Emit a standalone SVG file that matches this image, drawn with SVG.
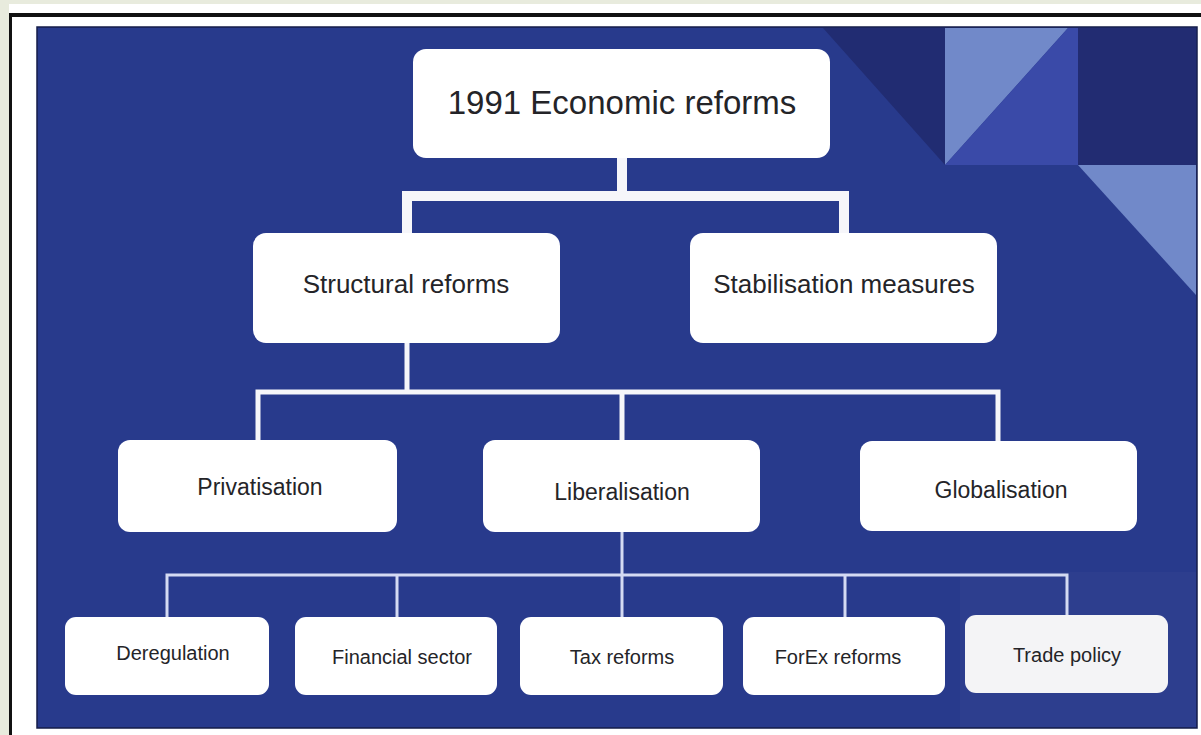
<svg xmlns="http://www.w3.org/2000/svg" width="1201" height="735" viewBox="0 0 1201 735">
<style>
.box{fill:#ffffff;}
.t{font-family:"Liberation Sans",Arial,sans-serif;fill:#242428;text-anchor:middle;}
.l1{font-size:33px;}
.l2{font-size:26px;}
.l3{font-size:23px;}
.l4{font-size:20px;}
.c1{stroke:#f6f6fa;stroke-width:10;fill:none;stroke-linejoin:miter;}
.c2{stroke:#f6f6fa;stroke-width:5;fill:none;stroke-linejoin:miter;}
.c3{stroke:#d4daf2;stroke-width:3;fill:none;stroke-linejoin:miter;}
</style>
<rect x="0" y="0" width="1201" height="735" fill="#e8ebdd"/>
<rect x="9" y="4" width="1192" height="731" fill="#ffffff"/>
<rect x="9" y="13" width="1192" height="4" fill="#111111"/>
<rect x="9" y="13" width="3" height="722" fill="#111111"/>
<g id="panel">
<rect x="37" y="27" width="1160" height="701" fill="#283a8c" stroke="#151c48" stroke-width="1.5"/>
<polygon points="823,28 945,28 945,165" fill="#212c72"/>
<polygon points="945,28 1068,28 945,165" fill="#7189c9"/>
<polygon points="1068,28 1078,28 1078,165 945,165" fill="#3a4aa8"/>
<rect x="1078" y="28" width="118" height="137" fill="#222c72"/>
<polygon points="1078,165 1196,165 1196,295" fill="#7189c9"/>
<rect x="960" y="572" width="236" height="155" fill="#ffffff" opacity="0.025"/>
</g>
<g id="connectors">
<path class="c1" d="M622,158 V196"/>
<path class="c1" d="M407,233 V196 H844 V233"/>
<path class="c2" d="M407,343 V392"/>
<path class="c2" d="M258,440 V392 H998 V441"/>
<path class="c2" d="M622,392 V440"/>
<path class="c3" d="M622,532 V575"/>
<path class="c3" d="M167,617 V575 H1067 V615"/>
<path class="c3" d="M397,575 V617 M622,575 V617 M845,575 V617"/>
</g>
<g id="n-root">
<rect class="box" x="413" y="49" width="417" height="109" rx="13"/>
<text class="t l1" x="622" y="114">1991 Economic reforms</text>
</g>
<g id="n-structural">
<rect class="box" x="253" y="233" width="307" height="110" rx="13"/>
<text class="t l2" x="406" y="293">Structural reforms</text>
</g>
<g id="n-stabilisation">
<rect class="box" x="690" y="233" width="307" height="110" rx="13"/>
<text class="t l2" x="844" y="293">Stabilisation measures</text>
</g>
<g id="n-privatisation">
<rect class="box" x="118" y="440" width="279" height="92" rx="12"/>
<text class="t l3" x="260" y="495">Privatisation</text>
</g>
<g id="n-liberalisation">
<rect class="box" x="483" y="440" width="277" height="92" rx="12"/>
<text class="t l3" x="622" y="500">Liberalisation</text>
</g>
<g id="n-globalisation">
<rect class="box" x="860" y="441" width="277" height="90" rx="12"/>
<text class="t l3" x="1001" y="498">Globalisation</text>
</g>
<g id="n-deregulation">
<rect class="box" x="65" y="617" width="204" height="78" rx="11"/>
<text class="t l4" x="173" y="660">Deregulation</text>
</g>
<g id="n-financial">
<rect class="box" x="295" y="617" width="202" height="78" rx="11"/>
<text class="t l4" x="402" y="664">Financial sector</text>
</g>
<g id="n-tax">
<rect class="box" x="520" y="617" width="203" height="78" rx="11"/>
<text class="t l4" x="622" y="664">Tax reforms</text>
</g>
<g id="n-forex">
<rect class="box" x="743" y="617" width="202" height="78" rx="11"/>
<text class="t l4" x="838" y="664">ForEx reforms</text>
</g>
<g id="n-trade">
<rect class="box" x="965" y="615" width="203" height="78" rx="11" style="fill:#f4f4f6"/>
<text class="t l4" x="1067" y="662">Trade policy</text>
</g>
</svg>
